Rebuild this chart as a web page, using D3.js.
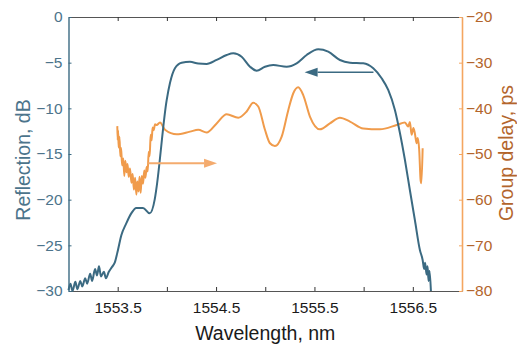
<!DOCTYPE html>
<html>
<head>
<meta charset="utf-8">
<script src="https://cdn.jsdelivr.net/npm/d3@7"></script>
<style>
  body { margin: 0; background: #fff; }
  svg { font-family: "Liberation Sans", Arial, Helvetica, sans-serif; }
</style>
</head>
<body>
<div id="chart"></div>
<script>
// reflection spectrum (nm, dB)
const reflWl = [1553.00, 1553.02, 1553.04, 1553.07, 1553.09, 1553.12, 1553.14, 1553.17, 1553.19, 1553.22,
  1553.24, 1553.27, 1553.29, 1553.31, 1553.33, 1553.36, 1553.38, 1553.41, 1553.44, 1553.47,
  1553.503, 1553.537, 1553.587, 1553.638, 1553.689, 1553.757, 1553.825, 1553.876, 1553.892, 1553.998,
  1554.032, 1554.082, 1554.150, 1554.235, 1554.319, 1554.404, 1554.506, 1554.608, 1554.675, 1554.760,
  1554.845, 1554.913, 1554.997, 1555.081, 1555.217, 1555.319, 1555.421, 1555.539, 1555.640, 1555.759,
  1555.861, 1555.996, 1556.098, 1556.183, 1556.250, 1556.318, 1556.369, 1556.420, 1556.470, 1556.521,
  1556.572, 1556.600, 1556.615, 1556.625, 1556.640, 1556.650, 1556.660, 1556.670, 1556.684];
const reflDb = [-29.9, -29.2, -30.0, -29.0, -29.8, -28.9, -29.5, -28.6, -29.2, -28.1,
  -28.9, -27.6, -28.3, -27.3, -28.4, -27.9, -28.6, -27.9, -27.4, -26.9,
  -25.5, -23.9, -22.6, -21.5, -20.9, -20.9, -21.5, -20.0, -18.9, -9.1,
  -7.2, -5.6, -5.0, -4.9, -5.1, -5.15, -4.7, -4.16, -3.97, -4.35,
  -5.44, -5.88, -5.44, -5.26, -5.44, -5.07, -4.16, -3.54, -3.80, -4.71,
  -5.00, -5.07, -5.62, -6.71, -7.99, -10.18, -12.7, -15.66, -18.94, -22.23,
  -25.51, -26.6, -27.6, -26.9, -28.2, -27.3, -28.9, -27.8, -30.0];

// group delay (nm, ps)
const delayWl = [1553.496, 1553.500, 1553.504, 1553.510, 1553.518, 1553.527, 1553.535, 1553.545, 1553.557, 1553.567,
  1553.578, 1553.590, 1553.600, 1553.612, 1553.625, 1553.640, 1553.652, 1553.665, 1553.677, 1553.690,
  1553.700, 1553.712, 1553.722, 1553.733, 1553.745, 1553.758, 1553.770, 1553.782, 1553.795, 1553.805,
  1553.815, 1553.825, 1553.835, 1553.845, 1553.855, 1553.865, 1553.880, 1553.896, 1553.930, 1553.981,
  1554.100, 1554.235, 1554.319, 1554.404, 1554.506, 1554.608, 1554.726, 1554.811, 1554.878, 1554.929,
  1554.997, 1555.048, 1555.098, 1555.167, 1555.234, 1555.285, 1555.335, 1555.386, 1555.454, 1555.556,
  1555.657, 1555.759, 1555.861, 1555.996, 1556.166, 1556.335, 1556.420, 1556.453, 1556.470, 1556.488,
  1556.506, 1556.521, 1556.539, 1556.550, 1556.565, 1556.579, 1556.587, 1556.600];
const delayPs = [-43.9, -47.0, -44.8, -48.6, -46.2, -50.5, -48.7, -52.5, -51.0, -54.8,
  -51.5, -54.0, -52.2, -55.0, -53.2, -56.3, -54.4, -57.8, -55.2, -58.9,
  -56.0, -58.2, -55.0, -58.5, -54.8, -56.5, -53.6, -55.2, -52.8, -53.8,
  -49.5, -50.5, -45.8, -47.0, -44.2, -44.8, -43.5, -43.65, -43.1, -44.7,
  -45.7, -45.1, -44.7, -45.3, -43.3, -41.3, -42.05, -40.7, -38.8, -39.6,
  -44.7, -47.65, -48.25, -46.2, -40.4, -36.7, -35.4, -37.1, -41.8, -44.6,
  -43.3, -42.05, -42.9, -44.4, -44.6, -43.65, -43.1, -44.0, -43.0, -45.8,
  -44.3, -45.5, -47.65, -46.5, -49.1, -55.7, -56.4, -48.75];

// axes ticks
const xTicks = [1553.5, 1554, 1554.5, 1555, 1555.5, 1556, 1556.5];
const leftTicks = [0, -5, -10, -15, -20, -25, -30];
const rightTicks = [-20, -30, -40, -50, -60, -70, -80];

// arrows: [from, to] in nm, plus level on own axis
const delayArrow = { from: 1553.81, to: 1554.51, level: -52.0 };
const reflArrow = { from: 1556.10, to: 1555.40, level: -6.05 };

const width = 517, height = 344;
const mLeft = 68.5, mRight = 462, mTop = 17, mBottom = 291;
const blue = "#3b6a82", blueTxt = "#4c748b";
const orange = "#f09b4b", orangeAxis = "#f4a660", orangeTxt = "#b3652c";

const svg = d3.select("#chart").append("svg")
  .attr("width", width).attr("height", height);

const x = d3.scaleLinear().domain([1553, 1557]).range([mLeft, mRight]);
const yL = d3.scaleLinear().domain([-30, 0]).range([mBottom, mTop]);
const yR = d3.scaleLinear().domain([-80, -20]).range([mBottom, mTop]);

const fmt = d => (d % 1 !== 0 ? d3.format(".1f")(d) : "");

// bottom axis
const gx = svg.append("g").attr("transform", `translate(0,${mBottom})`)
  .call(d3.axisBottom(x).tickValues(xTicks).tickFormat(fmt).tickSize(-4).tickSizeOuter(0).tickPadding(11));
gx.selectAll("text").style("font-size", "15.5px").attr("fill", "#1a1a1a");
gx.select(".domain").attr("stroke", "#555").attr("stroke-width", 1.2);
gx.selectAll(".tick line").attr("stroke", "#333");

// top axis (ticks only)
const gt = svg.append("g").attr("transform", `translate(0,${mTop})`)
  .call(d3.axisTop(x).tickValues(xTicks).tickFormat("").tickSize(-4).tickSizeOuter(0));
gt.select(".domain").attr("stroke", "#555").attr("stroke-width", 1.2);
gt.selectAll(".tick line").attr("stroke", "#333");

// left axis
const gl = svg.append("g").attr("transform", `translate(${mLeft},0)`)
  .call(d3.axisLeft(yL).tickValues(leftTicks).tickSize(-3).tickSizeOuter(0).tickPadding(6));
gl.selectAll("text").style("font-size", "15.5px").attr("fill", blueTxt);
gl.select(".domain").attr("stroke", blue).attr("stroke-width", 1.4);
gl.selectAll(".tick line").attr("stroke", blue);

// right axis
const gr = svg.append("g").attr("transform", `translate(${mRight},0)`)
  .call(d3.axisRight(yR).tickValues(rightTicks).tickSize(-3).tickSizeOuter(0).tickPadding(4));
gr.selectAll("text").style("font-size", "15.5px").attr("fill", orangeTxt);
gr.select(".domain").attr("stroke", orangeAxis).attr("stroke-width", 1.6);
gr.selectAll(".tick line").attr("stroke", orangeAxis);

// curves
const reflData = reflWl.map((w, i) => [w, reflDb[i]]);
const delayData = delayWl.map((w, i) => [w, delayPs[i]]);

svg.append("path").datum(delayData)
  .attr("fill", "none").attr("stroke", orange).attr("stroke-width", 2)
  .attr("stroke-linejoin", "round")
  .attr("d", d3.line().x(d => x(d[0])).y(d => yR(d[1])).curve(d3.curveMonotoneX));

svg.append("path").datum(reflData)
  .attr("fill", "none").attr("stroke", blue).attr("stroke-width", 2)
  .attr("stroke-linejoin", "round")
  .attr("d", d3.line().x(d => x(d[0])).y(d => yL(d[1])).curve(d3.curveMonotoneX));

// arrows
function arrow(a, yScale, color, lw) {
  const y0 = yScale(a.level);
  const x0 = x(a.from), x1 = x(a.to);
  const dir = Math.sign(x1 - x0), headLen = 13, headW = 4.5;
  svg.append("line")
    .attr("x1", x0).attr("y1", y0).attr("x2", x1 - dir * headLen).attr("y2", y0)
    .attr("stroke", color).attr("stroke-width", lw);
  svg.append("path")
    .attr("d", `M${x1},${y0} L${x1 - dir * headLen},${y0 - headW} L${x1 - dir * headLen},${y0 + headW} Z`)
    .attr("fill", color);
}
arrow(delayArrow, yR, "#f4ab6e", 2);
arrow(reflArrow, yL, blue, 1.6);

// titles
svg.append("text").attr("x", (mLeft + mRight) / 2).attr("y", 340)
  .attr("text-anchor", "middle").style("font-size", "19.5px").attr("fill", "#1a1a1a")
  .text("Wavelength, nm");
svg.append("text").attr("transform", "translate(30,160) rotate(-90)")
  .attr("text-anchor", "middle").style("font-size", "19.5px").attr("fill", blueTxt)
  .text("Reflection, dB");
svg.append("text").attr("transform", "translate(513,153) rotate(-90)")
  .attr("text-anchor", "middle").style("font-size", "19.5px").attr("fill", orangeTxt)
  .text("Group delay, ps");
</script>
</body>
</html>
